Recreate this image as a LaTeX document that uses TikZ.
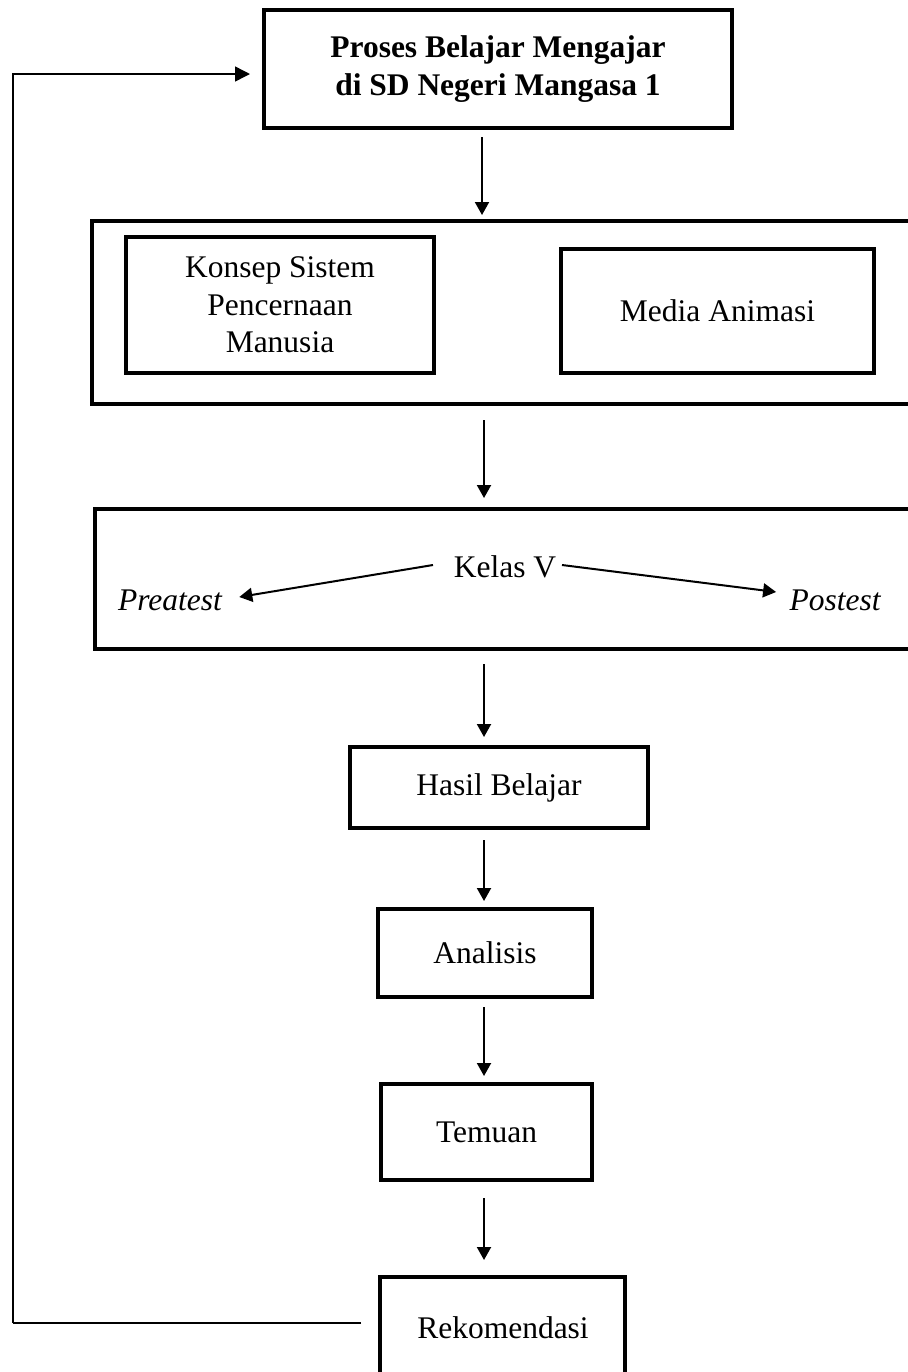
\documentclass[tikz,border=0pt]{standalone}
\usepackage{fontspec}
\setmainfont{Liberation Serif}
\usetikzlibrary{arrows.meta,calc}
\tikzset{
  bx/.style={draw, line width=2pt, inner sep=0pt, align=center},
  txt/.style={inner sep=0pt, align=center},
  arr/.style={line width=1pt, -{Triangle[length=6.5pt,width=7pt]}},
  fbline/.style={line width=0.75pt},
}
\begin{document}
\begin{tikzpicture}[x=0.5pt,y=-0.5pt,font=\fontsize{15.75pt}{18.7pt}\selectfont]
\useasboundingbox (0,0) rectangle (908,1372);
\clip (0,0) rectangle (908,1372);
% boxes
\node[bx, minimum width=234pt, minimum height=59pt, font=\fontsize{15.75pt}{18.7pt}\selectfont\bfseries] (top) at (498,69) {Proses Belajar Mengajar\\di SD Negeri Mangasa 1};
\node[bx, minimum width=434pt, minimum height=91.5pt] (box2) at (526,312.5) {};
\node[bx, minimum width=154pt, minimum height=68pt] (konsep) at (280,305) {Konsep Sistem\\Pencernaan\\Manusia};
\node[bx, minimum width=156.5pt, minimum height=62pt] (media) at (717.5,311) {Media Animasi};
\node[bx, minimum width=432.5pt, minimum height=70pt] (box3) at (527.5,579) {};
\node[txt] (kelas) at (505,567) {Kelas V};
\node[txt] (pre) at (170,600) {\itshape Preatest};
\node[txt] (post) at (835,600) {\itshape Postest};
\node[bx, minimum width=149pt, minimum height=40.5pt] (hasil) at (499,787.5) {Hasil Belajar};
\node[bx, minimum width=107pt, minimum height=44pt] (anal) at (485,953) {Analisis};
\node[bx, minimum width=105.5pt, minimum height=48pt] (temu) at (486.5,1132) {Temuan};
\node[bx, minimum width=122.5pt, minimum height=71.5pt] (rek) at (502.5,1348.5) {};
\node[txt] (rektxt) at (503,1328) {Rekomendasi};
% arrow axis
\coordinate (ax) at (484,0);
\coordinate (ax1) at (482,0);
\draw[arr, shorten <=3.5pt, shorten >=2pt] (top.south -| ax1) -- (box2.north -| ax1);
\draw[arr, shorten <=7pt, shorten >=4.5pt] (box2.south -| ax) -- (box3.north -| ax);
\draw[arr, shorten <=6.5pt, shorten >=4pt] (box3.south -| ax) -- (hasil.north -| ax);
\draw[arr, shorten <=5pt, shorten >=3pt] (hasil.south -| ax) -- (anal.north -| ax);
\draw[arr, shorten <=4pt, shorten >=3pt] (anal.south -| ax) -- (temu.north -| ax);
\draw[arr, shorten <=8pt, shorten >=7.5pt] (temu.south -| ax) -- (rek.north -| ax);
% Kelas V arrows
\coordinate (kl) at (433,565);
\coordinate (kr) at (562,565);
\draw[arr] (kl) -- ([xshift=8.5pt,yshift=1.5pt]pre.east);
\draw[arr] (kr) -- ([xshift=-6.5pt,yshift=4pt]post.west);
% feedback loop
\coordinate (fbs) at (363,1323);
\coordinate (fbL) at (13,1323);
\draw[fbline] (rek.west |- fbs) ++(-8.5pt,0) -- (fbL);
\draw[fbline, -{Triangle[length=7.5pt,width=7.5pt]}, shorten >=6pt] (fbL) |- ([yshift=-2.5pt]top.west);
\end{tikzpicture}
\end{document}
